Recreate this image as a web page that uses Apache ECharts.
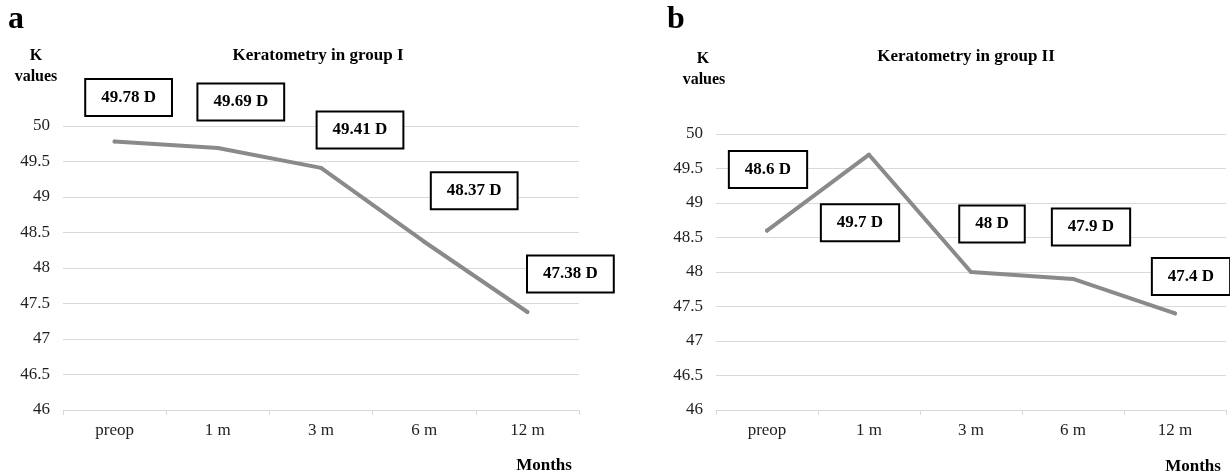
<!DOCTYPE html>
<html>
<head>
<meta charset="utf-8">
<script src="https://cdn.jsdelivr.net/npm/echarts@6/dist/echarts.min.js"></script>
<style>
  html, body { margin: 0; padding: 0; background: #fff; }
  #chart { width: 1230px; height: 476px; }
</style>
</head>
<body>
<div id="chart"></div>
<script>
var categories = ['preop', '1 m', '3 m', '6 m', '12 m'];
var groupI = [49.78, 49.69, 49.41, 48.37, 47.38];
var groupII = [48.6, 49.7, 48, 47.9, 47.4];
var yTicks = { min: 46, max: 50, interval: 0.5 };

// where each value box sits relative to its point
var offsetsI = [[14, -44], [23, -46], [39, -38], [50, -51], [43, -38]];
var offsetsII = [[1, -61], [-9, 68], [21, -48], [18, -52], [16, -37]];

var serif = '"Liberation Serif", "Times New Roman", serif';
var lineColor = '#8a8a8a';
var gridColor = '#d9d9d9';

function buildData(values, offsets) {
    var out = [];
    for (var i = 0; i < values.length; i++) {
        out.push({ value: values[i], label: { offset: offsets[i] } });
    }
    return out;
}

function xAxisFor(gridIndex) {
    return {
        type: 'category',
        gridIndex: gridIndex,
        boundaryGap: true,
        data: categories,
        axisLine: { lineStyle: { color: gridColor, width: 1 } },
        axisTick: { show: true, length: 5, lineStyle: { color: gridColor } },
        axisLabel: { margin: 12, fontSize: 17, fontFamily: serif, color: '#1f1f1f' }
    };
}

function yAxisFor(gridIndex) {
    return {
        type: 'value',
        gridIndex: gridIndex,
        min: yTicks.min,
        max: yTicks.max,
        interval: yTicks.interval,
        axisLine: { show: false },
        axisTick: { show: false },
        splitLine: { lineStyle: { color: gridColor, width: 1 } },
        axisLabel: { margin: 13, fontSize: 17, fontFamily: serif, color: '#1f1f1f' }
    };
}

function seriesFor(index, values, offsets) {
    return {
        type: 'line',
        xAxisIndex: index,
        yAxisIndex: index,
        data: buildData(values, offsets),
        symbol: 'circle',
        symbolSize: 4,
        showSymbol: true,
        itemStyle: { color: lineColor },
        lineStyle: { color: lineColor, width: 4, cap: 'round', join: 'round' },
        label: {
            show: true,
            position: 'inside',
            formatter: function (p) { return p.value + ' D'; },
            fontFamily: serif,
            fontSize: 17,
            fontWeight: 'bold',
            color: '#000',
            backgroundColor: '#fff',
            borderColor: '#000',
            borderWidth: 2,
            padding: [9, 15]
        },
        emphasis: { disabled: true }
    };
}

function text(x, y, str, size, align) {
    return {
        type: 'text',
        x: x,
        y: y,
        style: {
            text: str,
            font: 'bold ' + size + 'px ' + serif,
            fill: '#000',
            align: align || 'center',
            verticalAlign: 'middle'
        }
    };
}

var chart = echarts.init(document.getElementById('chart'));
chart.setOption({
    animation: false,
    grid: [
        { left: 63, top: 126, width: 516, height: 284 },
        { left: 716, top: 134, width: 510, height: 276 }
    ],
    xAxis: [xAxisFor(0), xAxisFor(1)],
    yAxis: [yAxisFor(0), yAxisFor(1)],
    series: [
        seriesFor(0, groupI, offsetsI),
        seriesFor(1, groupII, offsetsII)
    ],
    graphic: [
        { type: 'text', x: 8, y: 36, style: { text: 'a', font: 'bold 32px ' + serif, fill: '#000', verticalAlign: 'bottom' } },
        { type: 'text', x: 667, y: 36, style: { text: 'b', font: 'bold 32px ' + serif, fill: '#000', verticalAlign: 'bottom' } },
        text(36, 56, 'K', 16),
        text(36, 77, 'values', 16),
        text(318, 56, 'Keratometry in group I', 17),
        text(544, 466, 'Months', 17),
        text(703, 59, 'K', 16),
        text(704, 80, 'values', 16),
        text(966, 57, 'Keratometry in group II', 17),
        text(1193, 467, 'Months', 17)
    ]
});
</script>
</body>
</html>
